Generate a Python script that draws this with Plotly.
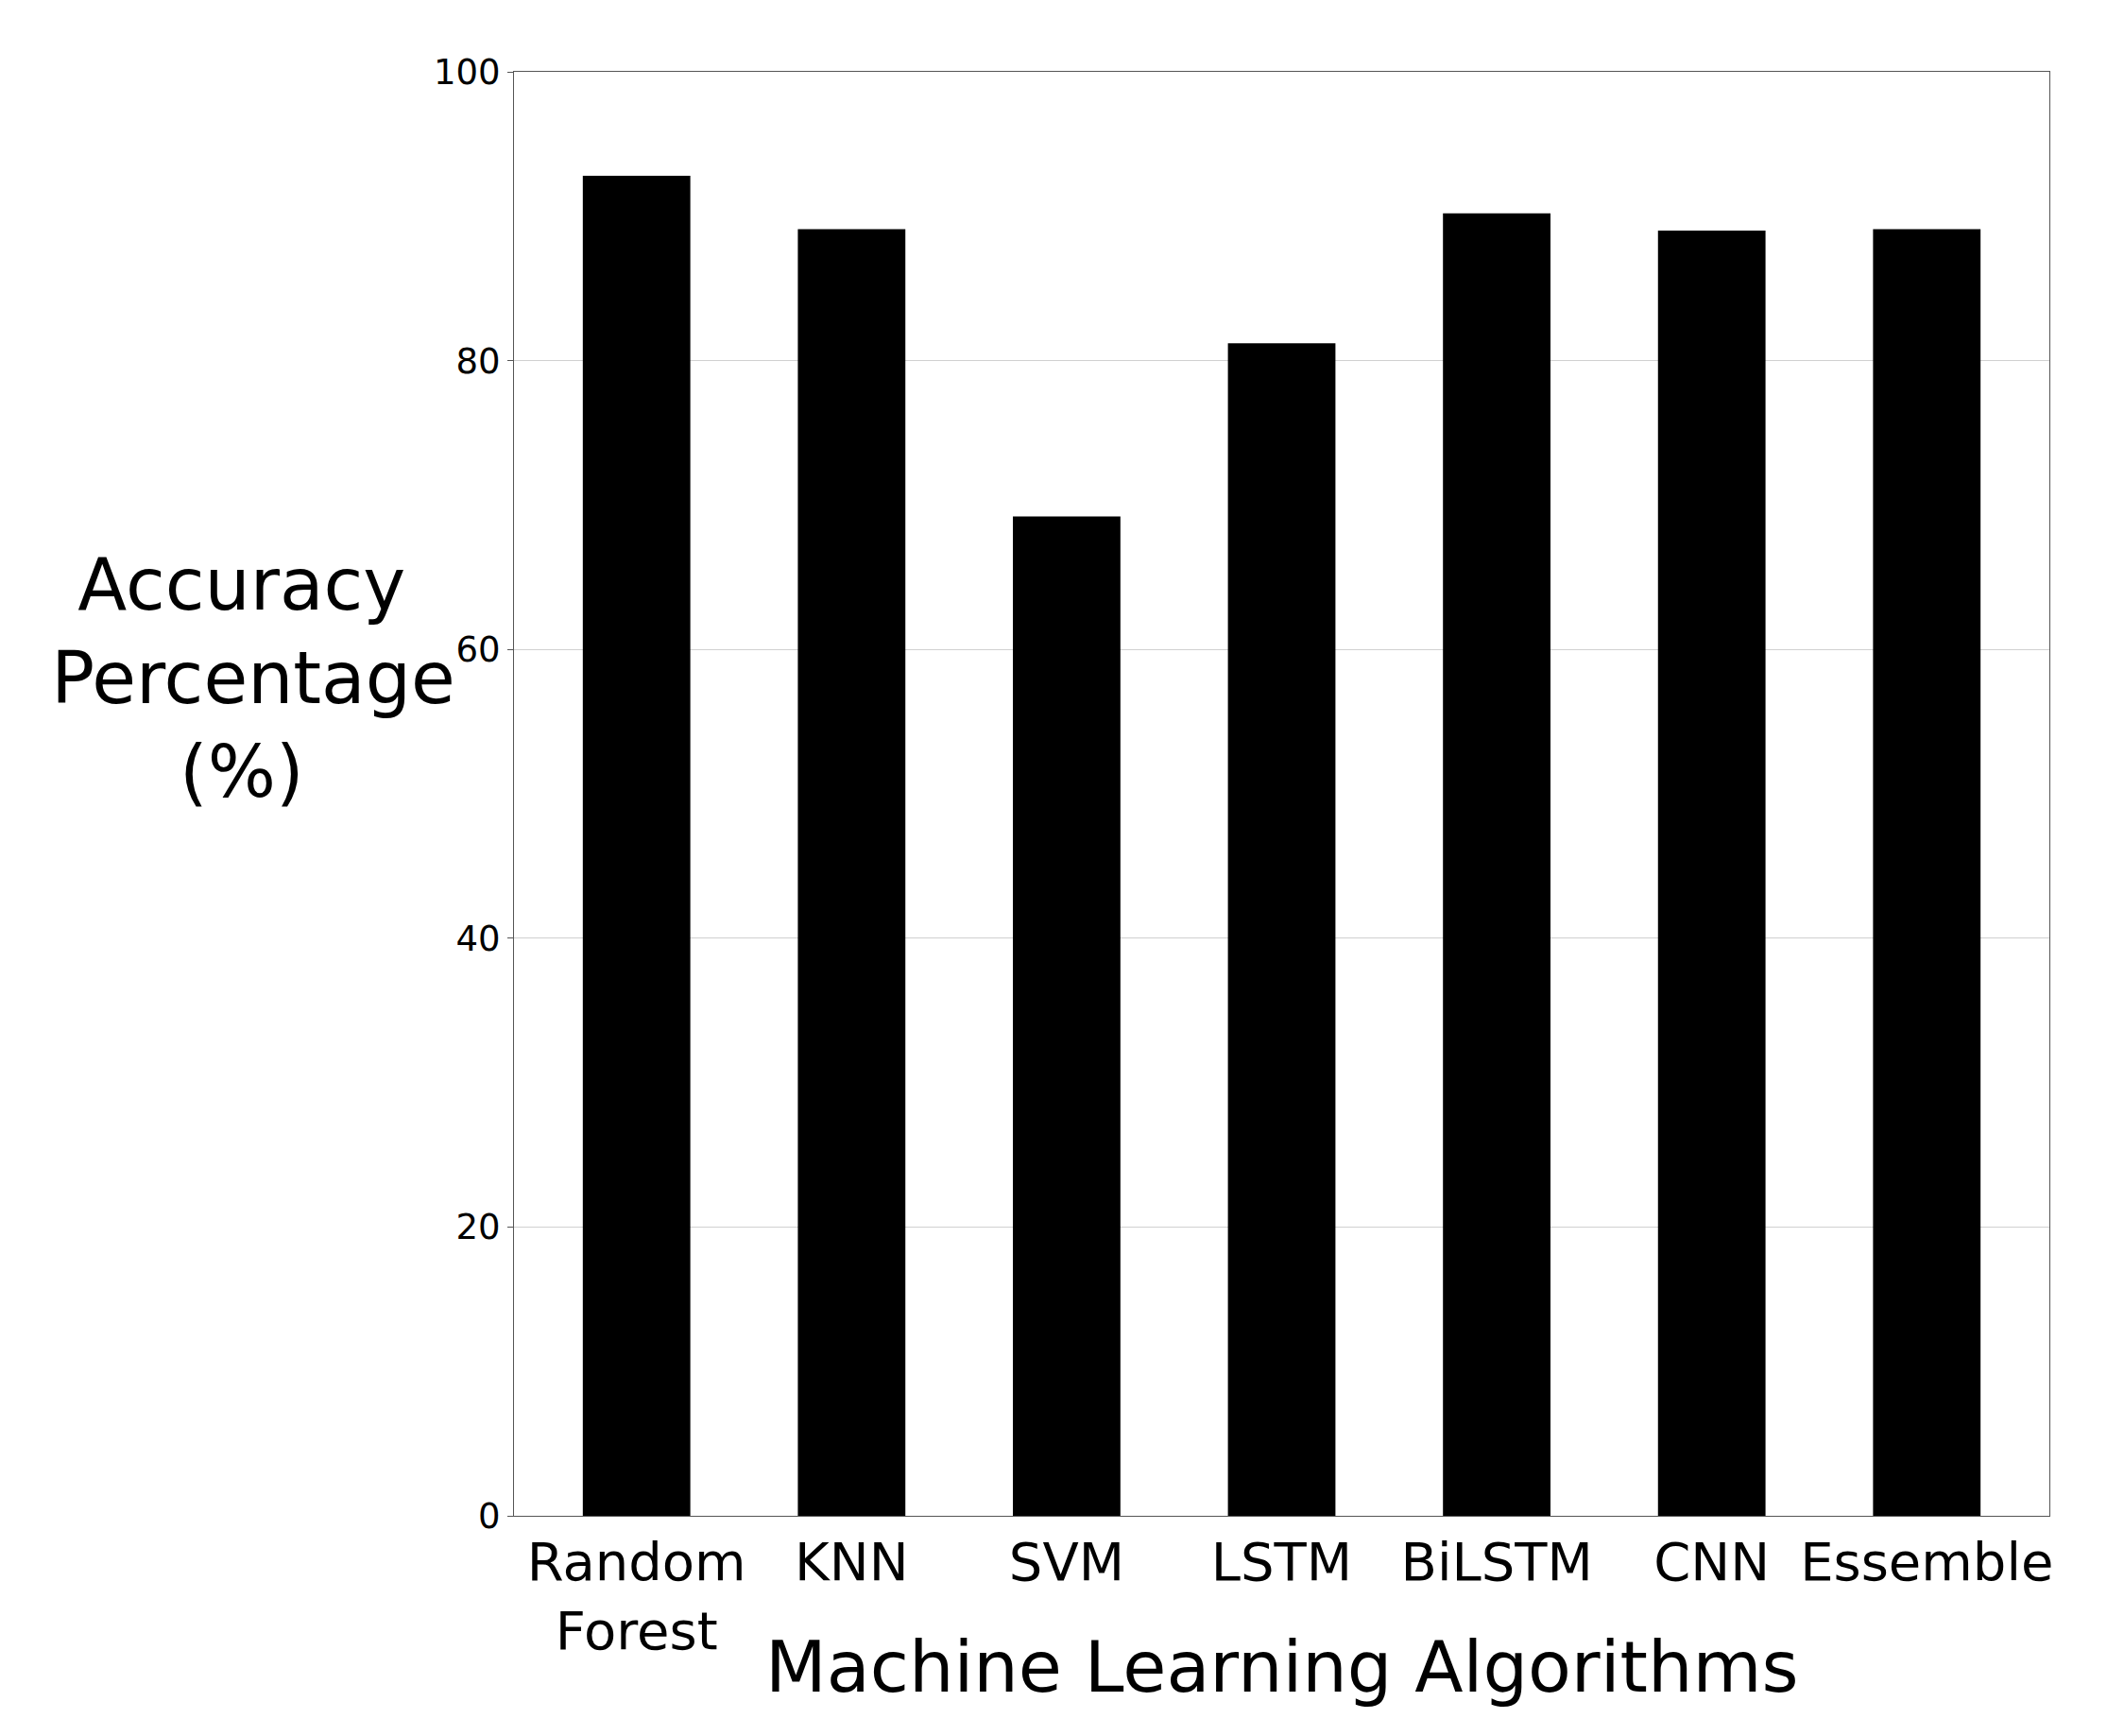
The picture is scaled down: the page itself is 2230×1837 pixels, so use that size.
import plotly.graph_objects as go

algorithms = ["Random<br>Forest", "KNN", "SVM", "LSTM", "BiLSTM", "CNN", "Essemble"]
accuracy = [92.8, 89.1, 69.2, 81.2, 90.2, 89.0, 89.1]

fig = go.Figure(go.Bar(x=algorithms, y=accuracy, width=0.5,
                       marker=dict(color="black", line=dict(width=0))))

fig.update_layout(
    width=2230, height=1837,
    paper_bgcolor="white", plot_bgcolor="white",
    font=dict(family="DejaVu Sans", color="black"),
    margin=dict(l=536, r=69, t=68, b=241),
    showlegend=False,
    xaxis=dict(
        tickfont=dict(size=56),
        showline=True, linecolor="#555", linewidth=1, mirror=True,
        range=[-0.57, 6.57],
    ),
    yaxis=dict(
        range=[0, 100], tickvals=[0, 20, 40, 60, 80, 100],
        tickfont=dict(size=37),
        showgrid=True, gridcolor="#d0d0d0", gridwidth=1, zeroline=False,
        showline=True, linecolor="#555", linewidth=1, mirror=True,
        ticks="outside", ticklen=6, tickcolor="#555",
    ),
    annotations=[
        dict(text="Accuracy<br> Percentage<br>(%)", xref="paper", yref="paper",
             x=-0.177, y=0.58, xanchor="center", yanchor="middle",
             showarrow=False, font=dict(size=76), align="center"),
        dict(text="Machine Learning Algorithms", xref="paper", yref="paper",
             x=0.5, y=-0.105, xanchor="center", yanchor="middle",
             showarrow=False, font=dict(size=75)),
    ],
)

fig.write_html("out.html")
